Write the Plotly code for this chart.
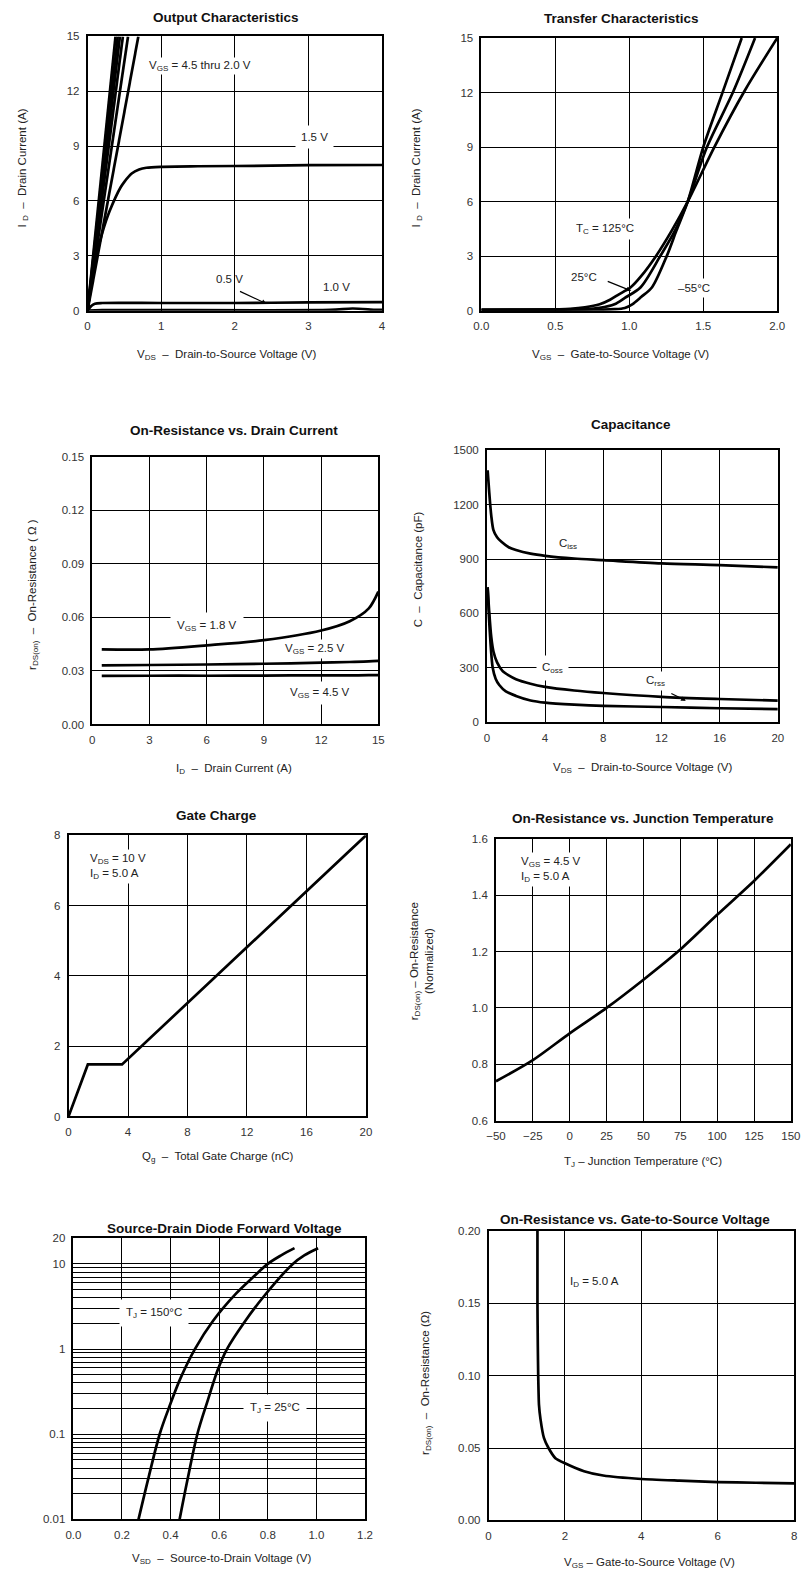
import plotly.graph_objects as go

W, H = 808, 1578
FONT = "Liberation Sans, Arial, Helvetica, sans-serif"

# ---------------- DATA ----------------
# 1. Output Characteristics (ID vs VDS)
oc_bundle_vgs = ["4.5 V", "4.0 V", "3.5 V", "3.0 V", "2.5 V", "2.0 V"]
oc_bundle_vds_at_15a = [0.38, 0.41, 0.44, 0.48, 0.55, 0.69]
oc_15_vds = [0, 0.05, 0.1, 0.15, 0.2, 0.25, 0.3, 0.38, 0.45, 0.5, 0.6, 0.7, 0.8, 1.0, 1.5, 2.5, 3.0, 4.0]
oc_15_id = [0, 1.5, 2.6, 3.5, 4.25, 4.9, 5.45, 6.2, 6.75, 7.05, 7.5, 7.72, 7.82, 7.87, 7.9, 7.93, 7.96, 7.97]
oc_10_vds = [0, 0.05, 0.1, 0.2, 1.0, 2.0, 3.0, 4.0]
oc_10_id = [0, 0.25, 0.38, 0.42, 0.42, 0.42, 0.45, 0.47]
oc_05_vds = [0, 0.2, 3.3, 3.6, 3.9, 4.0]
oc_05_id = [0, 0.03, 0.04, 0.12, 0.05, 0.04]

# 2. Transfer Characteristics (ID vs VGS)
tc_125_vgs = [0, 0.4, 0.6, 0.7, 0.8, 0.87, 0.93, 1.01, 1.08, 1.18, 1.286, 1.395, 1.575, 1.78, 2.0]
tc_125_id = [0.05, 0.06, 0.1, 0.18, 0.35, 0.6, 0.9, 1.29, 1.9, 3.0, 4.39, 6.0, 9.0, 12.1, 15.0]
tc_25_vgs = [0, 0.5, 0.7, 0.8, 0.9, 0.97, 1.077, 1.209, 1.308, 1.395, 1.525, 1.70, 1.85]
tc_25_id = [0.05, 0.06, 0.08, 0.15, 0.35, 0.7, 1.29, 3.0, 4.39, 6.0, 9.0, 12.0, 15.0]
tc_m55_vgs = [0, 0.6, 0.8, 0.9, 0.97, 1.02, 1.08, 1.154, 1.253, 1.318, 1.395, 1.50, 1.63, 1.76]
tc_m55_id = [0.05, 0.05, 0.06, 0.08, 0.15, 0.35, 0.75, 1.29, 3.0, 4.39, 6.0, 9.0, 12.0, 15.0]

# 3. On-Resistance vs Drain Current
rd_id = [0.5, 3, 6, 9, 12, 13.5, 14.5, 15]
rd_18 = [0.042, 0.042, 0.0443, 0.0472, 0.0526, 0.0578, 0.065, 0.0744]
rd_25 = [0.0331, 0.0333, 0.0336, 0.0340, 0.0346, 0.0350, 0.0353, 0.0356]
rd_45 = [0.0272, 0.0273, 0.0273, 0.0274, 0.0275, 0.0275, 0.0276, 0.0276]

# 4. Capacitance
cap_ciss_v = [0.05, 0.15, 0.3, 0.45, 0.7, 1, 1.5, 2, 3, 4, 6, 8, 12, 16, 20]
cap_ciss = [1390, 1280, 1140, 1060, 1020, 995, 965, 950, 930, 918, 903, 894, 876, 867, 854]
cap_coss_v = [0.05, 0.15, 0.3, 0.45, 0.7, 1.07, 1.5, 2, 3, 4, 6, 8, 12, 16, 20]
cap_coss = [745, 620, 470, 390, 330, 283, 258, 237, 212, 195, 175, 161, 140, 128, 119]
cap_crss_v = [0.05, 0.2, 0.4, 0.6, 0.85, 1.3, 2, 3, 4, 6, 8, 12, 16, 20]
cap_crss = [740, 500, 300, 240, 205, 170, 145, 120, 108, 97, 90, 84, 77, 72]

# 5. Gate Charge
gc_qg = [0, 1.3, 3.6, 20]
gc_vgs = [0, 1.48, 1.48, 8.0]

# 6. On-Resistance vs Junction Temperature
jt_t = [-50, -25, 0, 25, 50, 75, 100, 125, 150]
jt_r = [0.74, 0.815, 0.91, 1.0, 1.10, 1.207, 1.33, 1.45, 1.58]

# 7. Source-Drain Diode Forward Voltage
sd_150_v = [0.268, 0.31, 0.355, 0.392, 0.44, 0.50, 0.575, 0.67, 0.74, 0.80, 0.855, 0.91]
sd_150_i = [0.01, 0.0316, 0.1, 0.2, 0.45, 1.0, 2.15, 4.5, 7.0, 10.0, 12.6, 15.3]
sd_25_v = [0.437, 0.472, 0.51, 0.553, 0.595, 0.632, 0.70, 0.785, 0.903, 0.95, 1.007]
sd_25_i = [0.01, 0.0316, 0.1, 0.25, 0.58, 1.0, 2.0, 4.2, 10.0, 12.6, 15.3]

# 8. On-Resistance vs Gate-to-Source Voltage
rg_vgs = [1.28, 1.28, 1.29, 1.30, 1.32, 1.36, 1.45, 1.57, 1.75, 2.0, 2.5, 3, 4, 5, 6, 7, 8]
rg_r = [0.2, 0.15, 0.12, 0.1, 0.08, 0.07, 0.057, 0.05, 0.043, 0.0395, 0.034, 0.031,
        0.0286, 0.0275, 0.0265, 0.026, 0.0256]

# ---------------- LAYOUT (pixel boxes) ----------------
boxes = [
    (79.5, 381.5, 30.7, 307),
    (483.3, 786.7, 32.3, 307),
    (84.3, 377.7, 454, 724),
    (489, 787.3, 447.7, 721.7),
    (60, 365, 835.7, 1119),
    (498.3, 800.7, 839, 1123.3),
    (65, 364, 1241.7, 1525),
    (490.7, 804, 1234.3, 1526),
]

fig = go.Figure()
LW = 2.7


def add(i, x, y, shape="spline", smoothing=0.8):
    xa = "x" if i == 1 else f"x{i}"
    ya = "y" if i == 1 else f"y{i}"
    line = dict(color="black", width=LW, shape=shape)
    if shape == "spline":
        line["smoothing"] = smoothing
    fig.add_trace(go.Scatter(x=x, y=y, mode="lines", line=line, xaxis=xa, yaxis=ya,
                             showlegend=False, hoverinfo="skip"))


# 1
for name, v in zip(oc_bundle_vgs, oc_bundle_vds_at_15a):
    add(1, [0, v], [0, 15], shape="linear")
add(1, oc_15_vds, oc_15_id)
add(1, oc_10_vds, oc_10_id)
add(1, oc_05_vds, oc_05_id)
# 2
add(2, tc_125_vgs, tc_125_id)
add(2, tc_25_vgs, tc_25_id)
add(2, tc_m55_vgs, tc_m55_id)
# 3
add(3, rd_id, rd_18)
add(3, rd_id, rd_25)
add(3, rd_id, rd_45)
# 4
add(4, cap_ciss_v, cap_ciss)
add(4, cap_coss_v, cap_coss)
add(4, cap_crss_v, cap_crss)
# 5
add(5, gc_qg, gc_vgs, shape="linear")
# 6
add(6, jt_t, jt_r)
# 7
add(7, sd_150_v, sd_150_i, smoothing=1.0)
add(7, sd_25_v, sd_25_i, smoothing=1.0)
# 8
add(8, rg_vgs, rg_r, smoothing=0.5)

tickfont = dict(family=FONT, size=11.5, color="#333")

axes_spec = [
    # (xrange, xdtick, xfmt, yrange, ydtick, yfmt)
    ([0, 4], 1, None, [0, 15], 3, None),
    ([0, 2], 0.5, ".1f", [0, 15], 3, None),
    ([0, 15], 3, None, [0, 0.15], 0.03, ".2f"),
    ([0, 20], 4, None, [0, 1500], 300, None),
    ([0, 20], 4, None, [0, 8], 2, None),
    ([-50, 150], 25, None, [0.6, 1.6], 0.2, ".1f"),
    ([0, 1.2], 0.2, ".1f", None, None, None),
    ([0, 8], 2, None, [0, 0.2], 0.05, ".2f"),
]

common = dict(showgrid=True, gridcolor="black", gridwidth=1.2, showline=True,
              linecolor="black", linewidth=1.6, mirror=True, zeroline=False,
              ticks="outside", ticklen=4, tickcolor="rgba(0,0,0,0)",
              tickfont=tickfont, fixedrange=True)

for i, (box, spec) in enumerate(zip(boxes, axes_spec), start=1):
    l, r, t, b = box
    xr, xd, xf, yr, yd, yf = spec
    xk = "xaxis" if i == 1 else f"xaxis{i}"
    yk = "yaxis" if i == 1 else f"yaxis{i}"
    xanchor = "y" if i == 1 else f"y{i}"
    yanchor = "x" if i == 1 else f"x{i}"
    xa = dict(common, domain=[l / W, r / W], range=xr, dtick=xd, tick0=xr[0],
              anchor=xanchor)
    if xf:
        xa["tickformat"] = xf
    fig.layout[xk] = xa
    if i == 7:
        ya = dict(common, domain=[1 - b / H, 1 - t / H], type="log",
                  range=[-2, 1.30103], tickmode="array",
                  tickvals=[0.01, 0.1, 1, 10, 20],
                  ticktext=["0.01", "0.1", "1", "10", "20"], anchor=yanchor,
                  minor=dict(dtick="D1", showgrid=True, gridcolor="black",
                             gridwidth=0.9, ticks=""))
    else:
        ya = dict(common, domain=[1 - b / H, 1 - t / H], range=yr, dtick=yd,
                  tick0=yr[0], anchor=yanchor)
        if yf:
            ya["tickformat"] = yf
    fig.layout[yk] = ya

annotations = []


def ann(text, x, y, size=11.5, bg=False, xanchor="center", angle=0, bold=False,
        align="center", pad=3, color="#222"):
    if bold:
        text = f"<b>{text}</b>"
    d = dict(text=text, x=x / W, y=1 - y / H, xref="paper", yref="paper",
             showarrow=False, xanchor=xanchor, yanchor="middle", textangle=angle,
             align=align, font=dict(family=FONT, size=size, color=color))
    if bg:
        d.update(bgcolor="white", borderpad=pad)
    annotations.append(d)


def arrow(tail, tip):
    annotations.append(dict(text="", x=tip[0] / W, y=1 - tip[1] / H, xref="paper",
                            yref="paper", showarrow=True, ax=tail[0] - tip[0],
                            ay=tail[1] - tip[1], axref="pixel", ayref="pixel",
                            arrowhead=2, arrowsize=0.8, arrowwidth=1.2,
                            arrowcolor="black"))


# titles
titles = [
    ("Output Characteristics", 221, 12),
    ("Transfer Characteristics", 627, 13),
    ("On-Resistance vs. Drain Current", 230, 428),
    ("Capacitance", 637, 422),
    ("Gate Charge", 212, 816),
    ("On-Resistance vs. Junction Temperature", 649, 819),
    ("Source-Drain Diode Forward Voltage", 220, 1232),
    ("On-Resistance vs. Gate-to-Source Voltage", 641, 1223),
]
for txt, x, y in titles:
    ann(txt, x, y, size=13.5, bold=True, color="#111")

# x-axis titles
xtitles = [
    ("V<sub>DS</sub>  –  Drain-to-Source Voltage (V)", 222, 352),
    ("V<sub>GS</sub>  –  Gate-to-Source Voltage (V)", 626, 352),
    ("I<sub>D</sub>  –  Drain Current (A)", 230, 769),
    ("V<sub>DS</sub>  –  Drain-to-Source Voltage (V)", 649, 768),
    ("Q<sub>g</sub>  –  Total Gate Charge (nC)", 213, 1160),
    ("T<sub>J</sub> – Junction Temperature (°C)", 649, 1165),
    ("V<sub>SD</sub>  –  Source-to-Drain Voltage (V)", 217, 1565),
    ("V<sub>GS</sub> – Gate-to-Source Voltage (V)", 656, 1569),
]
for txt, x, y in xtitles:
    ann(txt, x, y, size=11.5)

# y-axis titles
ytitles = [
    ("I <sub>D</sub>  –  Drain Current (A)", 13, 163),
    ("I <sub>D</sub>  –  Drain Current (A)", 417, 163),
    ("r<sub>DS(on)</sub>  –  On-Resistance ( Ω )", 24, 593),
    ("C  –  Capacitance (pF)", 418, 568),
    ("r<sub>DS(on)</sub> – On-Resistance<br>(Normalized)", 422, 963),
    ("r<sub>DS(on)</sub>  –  On-Resistance (Ω)", 427, 1387),
]
for txt, x, y in ytitles:
    ann(txt, x, y, size=11.5, angle=-90)

# in-plot labels
ann("V<sub>GS</sub> = 4.5 thru 2.0 V", 195, 60, bg=True, pad=1)
ann("1.5 V", 312, 132, bg=True, pad=5)
ann("0.5 V", 225, 275)
ann("1.0 V", 335, 283)
arrow((235, 287), (263, 300))

ann("T<sub>C</sub> = 125°C", 610, 225, bg=True, pad=3)
ann("25°C", 589, 273, bg=True, pad=4)
ann("–55°C", 701, 284, bg=True, pad=3)
arrow((612, 277), (637, 287))

ann("V<sub>GS</sub> = 1.8 V", 202, 625, bg=True, pad=6)
ann("V<sub>GS</sub> = 2.5 V", 313, 648, bg=True, pad=2)
ann("V<sub>GS</sub> = 4.5 V", 318, 692, bg=True, pad=4)

ann("C<sub>iss</sub>", 572, 542)
ann("C<sub>oss</sub>", 556, 667, bg=True, pad=5)
ann("C<sub>rss</sub>", 662, 680, bg=True, pad=2)
arrow((677, 692), (693, 700))

ann("V<sub>DS</sub> = 10 V<br>I<sub>D</sub> = 5.0 A", 79, 867, bg=True,
    xanchor="left", align="left", pad=2)
ann("V<sub>GS</sub> = 4.5 V<br>I<sub>D</sub> = 5.0 A", 521, 870, bg=True,
    xanchor="left", align="left", pad=2)

ann("T<sub>J</sub> = 150°C", 148, 1317, bg=True, pad=6)
ann("T<sub>J</sub> = 25°C", 272, 1413, bg=True, pad=6)

ann("I<sub>D</sub> = 5.0 A", 599, 1286, bg=True, pad=4)

fig.update_layout(width=W, height=H, margin=dict(l=0, r=0, t=0, b=0),
                  paper_bgcolor="white", plot_bgcolor="white",
                  annotations=annotations, showlegend=False)

fig.write_html("out.html")
